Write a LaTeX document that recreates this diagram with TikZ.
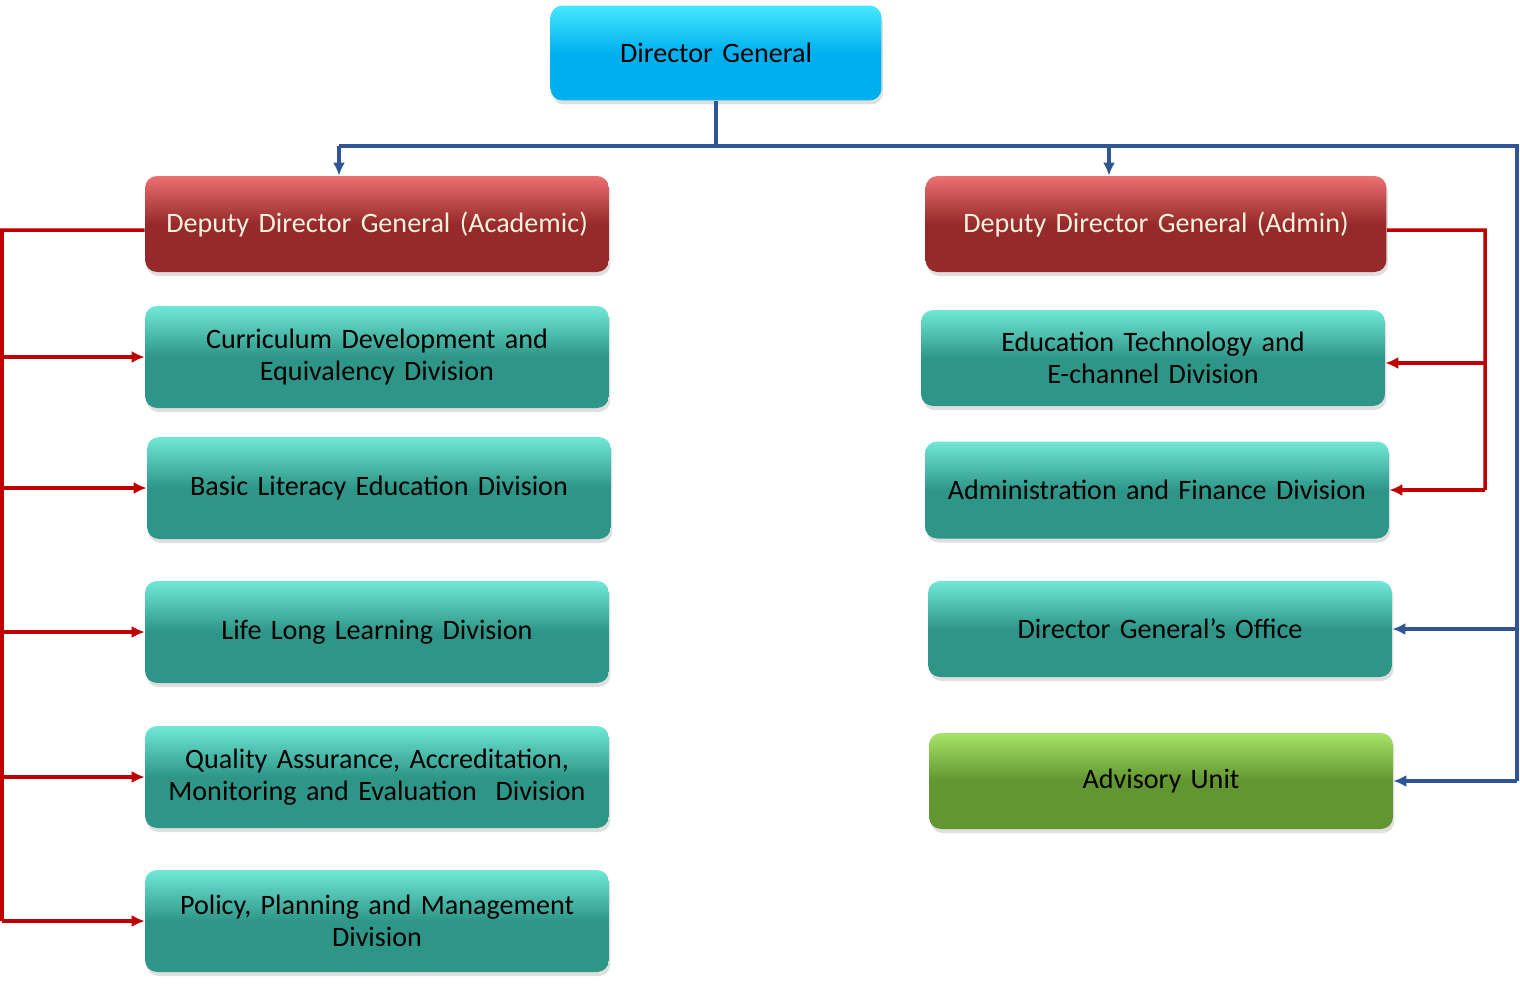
\documentclass[tikz,border=0pt]{standalone}
\usepackage{fontspec}
\setmainfont{Carlito}
\usetikzlibrary{arrows.meta,shadows}
\definecolor{dgtop}{RGB}{70,232,255}
\definecolor{dgbase}{RGB}{0,176,238}
\definecolor{ddgtop}{RGB}{236,112,112}
\definecolor{ddgbase}{RGB}{150,42,42}
\definecolor{ddgtext}{RGB}{246,242,222}
\definecolor{divtop}{RGB}{112,232,216}
\definecolor{divbase}{RGB}{46,150,136}
\definecolor{advtop}{RGB}{165,228,104}
\definecolor{advbase}{RGB}{98,150,48}
\definecolor{busblue}{RGB}{47,85,151}
\definecolor{railred}{RGB}{192,0,0}
\begin{document}
\begin{tikzpicture}[x=0.02cm, y=-0.02cm,
	unit/.style={rounded corners=0.24cm, align=center, inner sep=0pt,
		text width=8.9cm, minimum width=9.28cm, minimum height=2.04cm,
		font=\fontsize{16}{18.2}\selectfont,
		drop shadow={shadow xshift=0.03cm, shadow yshift=-0.08cm, opacity=0.25}},
	dgbox/.style={unit, top color=dgtop, bottom color=dgbase, middle color=dgbase},
	ddgbox/.style={unit, text=ddgtext, top color=ddgtop, bottom color=ddgbase, middle color=ddgbase},
	divbox/.style={unit, top color=divtop, bottom color=divbase, middle color=divbase},
	advbox/.style={unit, top color=advtop, bottom color=advbase, middle color=advbase},
	bline/.style={draw=busblue, line width=2pt},
	barrow/.style={bline, -{Latex[length=0.26cm, width=0.24cm]}},
	rline/.style={draw=railred, line width=2pt},
	rarrow/.style={rline, -{Latex[length=0.26cm, width=0.24cm]}}]
	\useasboundingbox (0,0) rectangle (1520,988);
	% top
	\node [dgbox, minimum width=6.62cm, text width=6.2cm, minimum height=1.9cm] (dg) at (716,53) {Director General};
	% academic side
	\node [ddgbox, minimum height=1.92cm] (ddga) at (377,224) {Deputy Director General (Academic)};
	\node [divbox] (cur) at (377,357) {Curriculum Development and\\Equivalency Division};
	\node [divbox] (bas) at (379,488) {Basic Literacy Education Division};
	\node [divbox] (lll) at (377,632) {Life Long Learning Division};
	\node [divbox] (qua) at (377,777) {Quality Assurance, Accreditation,\\Monitoring and Evaluation\ \ Division};
	\node [divbox] (pol) at (377,921) {Policy, Planning and Management\\Division};
	% admin side
	\node [ddgbox, minimum width=9.22cm, minimum height=1.92cm] (ddgb) at (1156,224) {Deputy Director General (Admin)};
	\node [divbox, minimum height=1.92cm] (etd) at (1153,358) {Education Technology and\\E-channel Division};
	\node [divbox, minimum height=1.94cm] (afd) at (1157,490) {Administration and Finance Division};
	\node [divbox, minimum height=1.92cm] (dgo) at (1160,629) {Director General’s Office};
	\node [advbox, minimum height=1.92cm] (adv) at (1161,781) {Advisory Unit};
	% blue bus
	\coordinate (busL) at (339,146);
	\coordinate (busM) at (1109,146);
	\coordinate (busR) at (1517,146);
	\draw [bline] (dg.south) -- (dg.south |- busL);
	\draw [bline] (busL) -- (busR) -- (busR |- adv.east);
	\draw [barrow] (busL) -- (busL |- ddga.north);
	\draw [barrow] (busM) -- (busM |- ddgb.north);
	\draw [barrow] (busR |- dgo.east) -- (dgo.east);
	\draw [barrow] (busR |- adv.east) -- (adv.east);
	% red rails
	\coordinate (railL) at (2,230);
	\coordinate (railR) at (1485,230);
	\draw [rline] ([yshift=-0.12cm]ddga.west) -- (railL) -- (railL |- pol.west);
	\foreach \n in {cur,bas,lll,qua,pol}
		\draw [rarrow] (railL |- \n.west) -- (\n.west);
	\draw [rline] ([yshift=-0.12cm]ddgb.east) -- (railR) -- (railR |- afd.east);
	\draw [rarrow] ([yshift=-0.1cm]railR |- etd.east) -- ([yshift=-0.1cm]etd.east);
	\draw [rarrow] (railR |- afd.east) -- (afd.east);
\end{tikzpicture}
\end{document}
